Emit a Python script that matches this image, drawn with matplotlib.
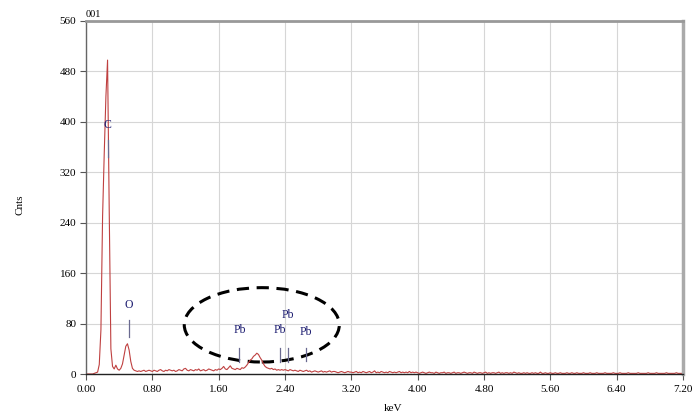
import numpy as np
import matplotlib
matplotlib.use("Agg")
import matplotlib.pyplot as plt
from matplotlib.patches import Ellipse

# ---- data ----
energy_step = 0.02
counts_low = [  # 0.00 .. 3.20 keV, step 0.02
    0, 0, 0, 0, 0, 1, 2, 3, 15, 70,
    250, 350, 440, 498, 260, 40, 12, 8, 14, 8,
    6, 9, 16, 30, 44, 48, 38, 20, 9, 6,
    5, 4, 5, 4, 5, 6, 4, 5, 6, 5,
    4, 6, 5, 4, 6, 7, 5, 4, 6, 5,
    7, 6, 5, 6, 4, 5, 7, 6, 5, 8,
    9, 6, 5, 7, 6, 5, 7, 6, 8, 5,
    6, 7, 5, 6, 8, 7, 6, 5, 7, 6,
    8, 7, 9, 12, 8, 7, 10, 13, 9, 8,
    7, 9, 8, 7, 10, 9, 11, 14, 18, 22,
    24, 28, 30, 33, 31, 26, 22, 16, 12, 10,
    9, 8, 9, 7, 8, 6, 7, 6, 7, 6,
    7, 6, 5, 7, 6, 5, 6, 5, 4, 6,
    5, 4, 5, 6, 4, 5, 3, 4, 5, 4,
    3, 4, 5, 3, 4, 3, 4, 5, 3, 4,
    4, 3, 2, 3, 4, 3, 2, 3, 4, 3,
    3,
]
counts_high = [  # 3.22 .. 7.20 keV, step 0.02
    2, 3, 4, 2, 3, 2, 4, 3, 2, 3,
    4, 2, 3, 5, 2, 3, 2, 4, 3, 2,
    3, 2, 4, 3, 2, 3, 2, 3, 4, 2,
    3, 2, 3, 2, 4, 2, 3, 2, 3, 2,
    1, 2, 3, 2, 1, 2, 3, 2, 2, 1,
    3, 2, 1, 2, 2, 3, 1, 2, 2, 1,
    2, 3, 1, 2, 2, 1, 2, 3, 2, 1,
    2, 2, 1, 3, 2, 1, 2, 2, 1, 2,
    3, 1, 2, 1, 2, 2, 1, 2, 3, 1,
    2, 1, 2, 2, 1, 2, 1, 3, 2, 1,
    2, 1, 1, 2, 1, 2, 1, 1, 2, 1,
    2, 1, 1, 3, 1, 1, 2, 1, 1, 2,
    1, 1, 2, 1, 1, 2, 1, 1, 1, 2,
    1, 1, 2, 1, 1, 2, 1, 1, 1, 2,
    1, 1, 1, 2, 1, 1, 1, 2, 1, 1,
    1, 1, 2, 1, 1, 1, 1, 2, 1, 1,
    1, 2, 1, 1, 1, 1, 2, 1, 1, 1,
    1, 1, 2, 1, 1, 1, 1, 1, 2, 1,
    1, 1, 1, 2, 1, 1, 1, 1, 1, 2,
    1, 1, 1, 1, 1, 2, 1, 1, 1, 1,
]
counts = np.array(counts_low + counts_high, dtype=float)
energy = np.round(np.arange(len(counts)) * energy_step, 2)

# element markers: label, line energy, label height, line top, line bottom
marker_labels = ["C", "O", "Pb", "Pb", "Pb", "Pb"]
marker_energy = [0.26, 0.52, 1.85, 2.34, 2.44, 2.65]
marker_label_y = [385, 100, 60, 60, 84, 57]
marker_top = [372, 85, 41, 41, 41, 41]
marker_bottom = [345, 58, 19, 19, 19, 21]

xticks = [0.00, 0.80, 1.60, 2.40, 3.20, 4.00, 4.80, 5.60, 6.40, 7.20]
yticks = [0, 80, 160, 240, 320, 400, 480, 560]

# ---- figure ----
fig = plt.figure(figsize=(6.96, 4.15), dpi=100)
ax = fig.add_axes([86/696, 41/415, 597/696, 353/415])
serif = ["Liberation Serif", "DejaVu Serif"]

ax.plot(energy, counts, color="#bf4040", lw=0.8)

for lab, e, ly, top, bot in zip(marker_labels, marker_energy, marker_label_y,
                                 marker_top, marker_bottom):
    ax.plot([e, e], [bot, top], color="#6a6a90", lw=0.9)
    ax.text(e, ly, lab, ha="center", va="bottom", color="#1c1c70",
            fontsize=8.5, family=serif)

ell = Ellipse((2.12, 78), width=1.87, height=118, fill=False,
              edgecolor="black", lw=2.2, linestyle=(0, (4, 2.5)))
ax.add_patch(ell)

ax.set_xlim(0, 7.2)
ax.set_ylim(0, 560)
ax.set_xticks(xticks)
ax.set_xticklabels([f"{v:.2f}" for v in xticks], family=serif, fontsize=8)
ax.set_yticks(yticks)
ax.set_yticklabels([str(v) for v in yticks], family=serif, fontsize=8)
ax.grid(True, color="#d6d6d6", lw=0.8)
ax.set_axisbelow(True)
ax.tick_params(direction="out", length=4, width=0.8, color="#555555", pad=3)
ax.tick_params(axis="x", pad=4)

ax.spines["left"].set_color("#666666")
ax.spines["left"].set_linewidth(1.0)
ax.spines["bottom"].set_color("#222222")
ax.spines["bottom"].set_linewidth(1.0)
ax.spines["top"].set_color("#999999")
ax.spines["top"].set_linewidth(2.0)
ax.spines["right"].set_color("#aaaaaa")
ax.spines["right"].set_linewidth(2.5)

ax.text(0.0, 1.006, "001", transform=ax.transAxes, ha="left", va="bottom",
        fontsize=7.5, family=serif)
fig.text(393/696, 1 - 408/415, "keV", ha="center", va="center",
         fontsize=8, family=serif)
fig.text(20/696, 1 - 205/415, "Cnts", ha="center", va="center",
         rotation=90, fontsize=8, family=serif)

fig.savefig("out.png", dpi=100)
